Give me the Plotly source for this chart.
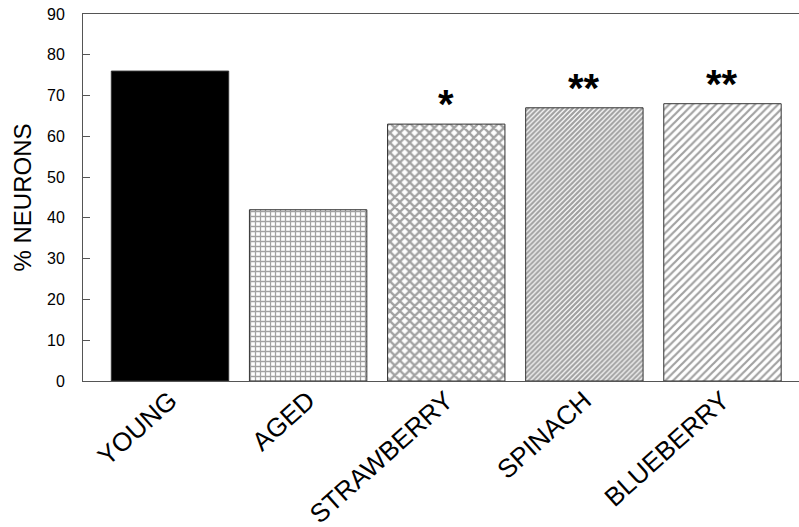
import plotly.graph_objects as go

categories = ["YOUNG", "AGED", "STRAWBERRY", "SPINACH", "BLUEBERRY"]
values = [76, 42, 63, 67, 68]
significance = ["", "", "*", "**", "**"]
y_ticks = [0, 10, 20, 30, 40, 50, 60, 70, 80, 90]

FONT = "Liberation Sans, Arial, Helvetica, sans-serif"

pattern_shapes = ["", "+", "x", "/", "/"]
pattern_sizes = [8, 5, 7, 3.5, 5.5]
pattern_solid = [0.3, 0.45, 0.55, 0.65, 0.4]
fill_colors = ["black", "white", "white", "white", "white"]

fig = go.Figure()
fig.add_trace(go.Bar(
    x=categories,
    y=values,
    width=0.85,
    marker=dict(
        color=fill_colors,
        line=dict(color="#333333", width=1),
        pattern=dict(
            shape=pattern_shapes,
            size=pattern_sizes,
            solidity=pattern_solid,
            fgcolor="#000000",
            bgcolor="white",
            fillmode="overlay",
        ),
    ),
    showlegend=False,
    hoverinfo="skip",
))

for cat, val, sig in zip(categories, values, significance):
    if sig:
        fig.add_annotation(
            x=cat, y=val, text="<b>" + sig + "</b>",
            showarrow=False, yanchor="bottom", yshift=-4,
            font=dict(family=FONT, size=40, color="black"),
        )

fig.update_layout(
    width=799, height=527,
    margin=dict(l=83, r=0, t=14, b=146),
    paper_bgcolor="white",
    plot_bgcolor="white",
    font=dict(family=FONT, color="black"),
    bargap=0.15,
)
fig.update_xaxes(
    range=[-0.63, 4.554],
    automargin=False,
    showline=True, linecolor="#555555", linewidth=1, mirror=True,
    ticks="", showgrid=False, zeroline=False,
    tickangle=-42,
    ticklabelstandoff=-7,
    ticklabeloverflow="allow",
    tickfont=dict(family=FONT, size=26, color="black"),
)
fig.update_yaxes(
    range=[0, 90],
    automargin=False,
    tickvals=y_ticks,
    showline=True, linecolor="#555555", linewidth=1,
    ticks="inside", ticklen=7, tickcolor="#555555",
    ticklabelstandoff=14,
    ticklabeloverflow="allow",
    showgrid=False, zeroline=False,
    tickfont=dict(family=FONT, size=16, color="black"),
    title=dict(text="% NEURONS", font=dict(family=FONT, size=24, color="black"), standoff=8),
)

fig.write_html(
    "out.html",
    config={"displayModeBar": False},
    post_script="document.body.style.margin='0px';document.body.style.overflow='hidden';",
)
